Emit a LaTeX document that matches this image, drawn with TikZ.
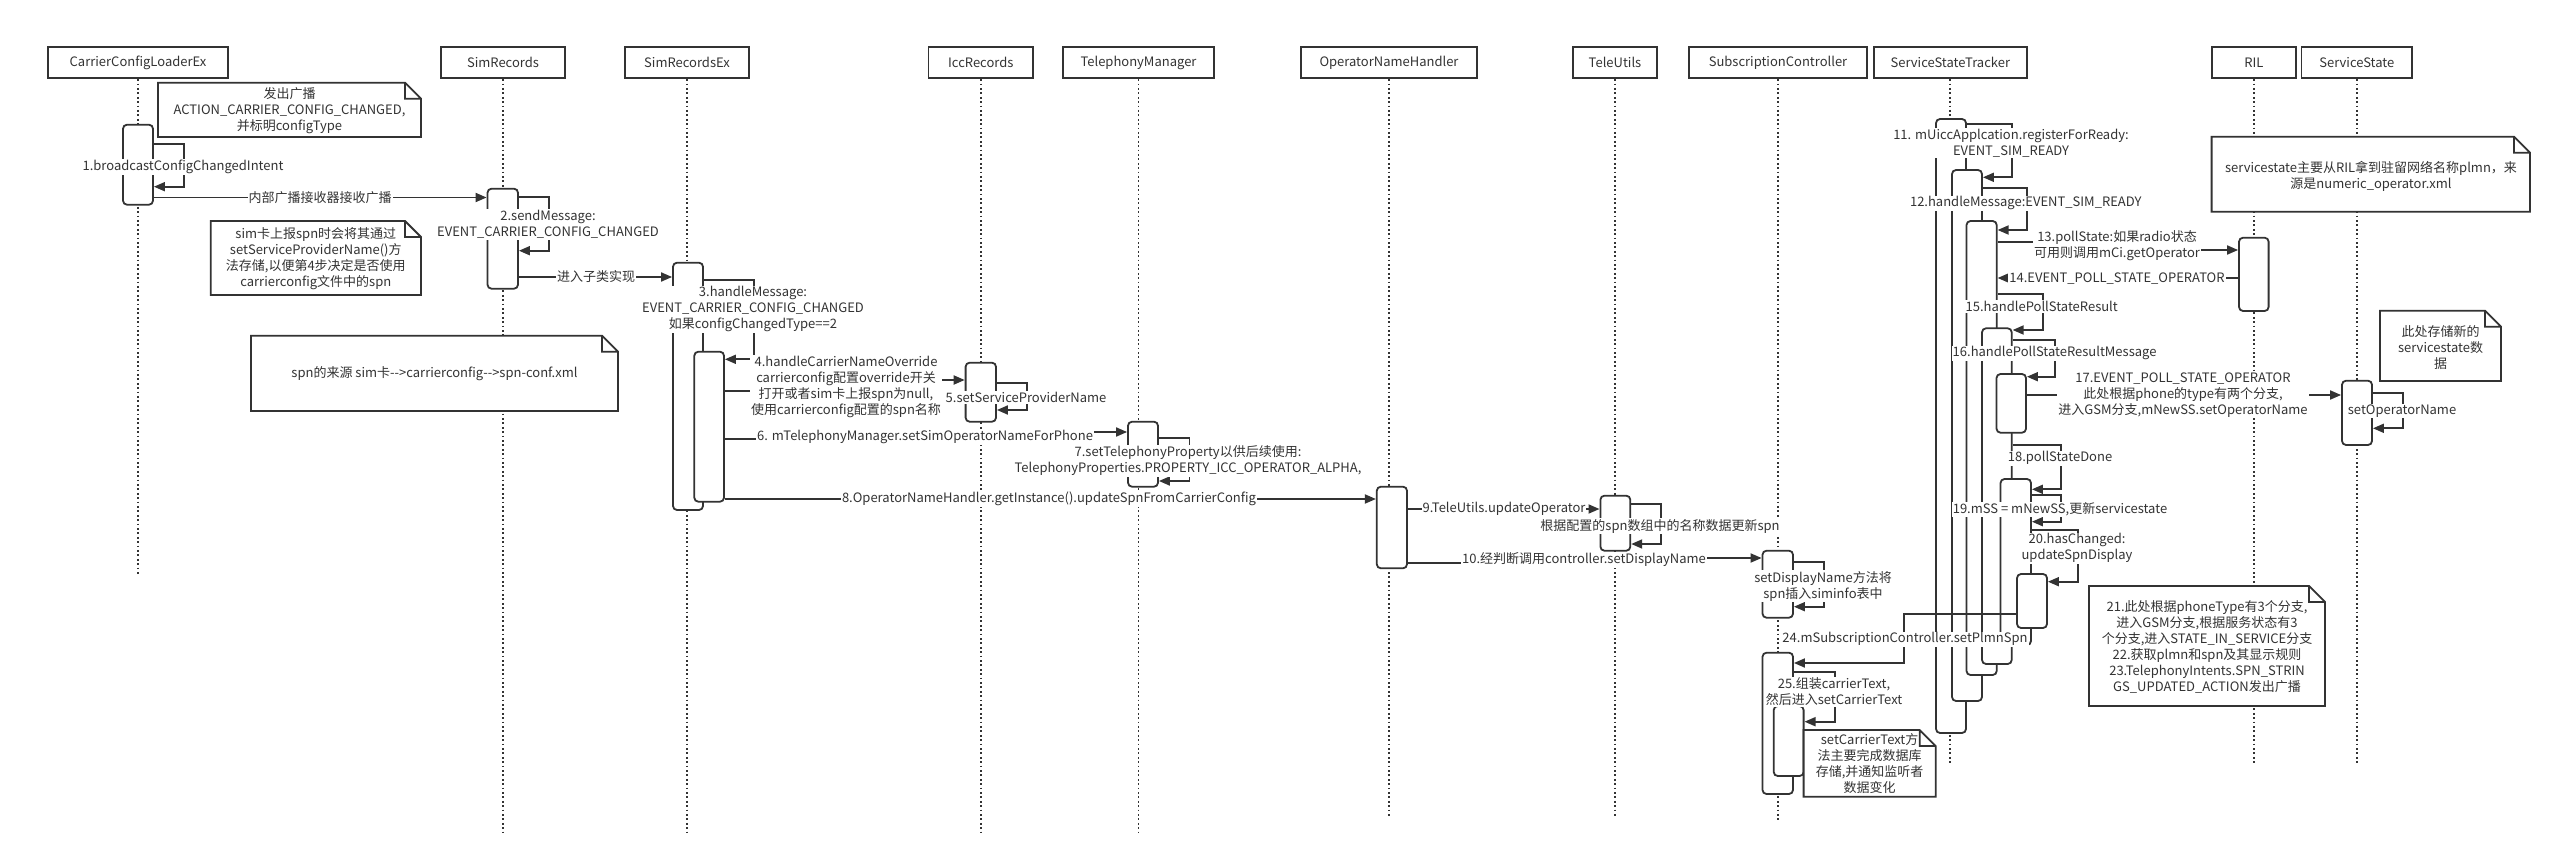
\documentclass[tikz,border=0pt]{standalone}
\usepackage{fontspec}
\usetikzlibrary{arrows.meta,fit}
\newfontfamily\cjk{Noto Sans CJK SC}
\definecolor{ink}{HTML}{333333}

\begin{document}
\begin{tikzpicture}[x=1pt, y=-1pt, >={Triangle[length=11pt,width=9pt]}, color=ink,
    every node/.style={font=\cjk\fontsize{13}{16}\selectfont, text=ink},
    head/.style={rectangle, draw=ink, line width=1.8pt, minimum height=31pt, inner sep=0pt},
    life/.style={draw=ink, line width=1.8pt, dash pattern=on 1.8pt off 2.6pt},
    act/.style={rectangle, draw=ink, fill=white, rounded corners=4pt, line width=1.8pt, inner sep=0pt},
    msg/.style={draw=ink, line width=1.8pt, ->},
    lbl/.style={fill=white, inner sep=1pt, align=center},
    notebox/.style={draw=ink, fill=white, line width=1.8pt, line join=miter},
    notetext/.style={align=center, inner sep=0pt}]

    \useasboundingbox (0,0) rectangle (2562,848);

    % Heads.
    \node[head, minimum width=180pt] (ccle) at (138,62.8) {CarrierConfigLoaderEx};
    \node[head, minimum width=124.5pt] (simr) at (503,62.8) {SimRecords};
    \node[head, minimum width=124pt] (simrex) at (687,62.8) {SimRecordsEx};
    \node[head, minimum width=104.5pt] (iccr) at (980.8,62.8) {IccRecords};
    \node[head, minimum width=151pt] (telmgr) at (1138.5,62.8) {TelephonyManager};
    \node[head, minimum width=176pt] (onh) at (1389,62.8) {OperatorNameHandler};
    \node[head, minimum width=83.5pt] (teleu) at (1615,62.8) {TeleUtils};
    \node[head, minimum width=178pt] (subc) at (1778,62.8) {SubscriptionController};
    \node[head, minimum width=153.4pt] (sst) at (1950.3,62.8) {ServiceStateTracker};
    \node[head, minimum width=84.4pt] (ril) at (2253.8,62.8) {RIL};
    \node[head, minimum width=110.5pt] (sstate) at (2356.8,62.8) {ServiceState};

    % Lifelines.
    \foreach \n/\b in {ccle/575, simr/835, simrex/835, iccr/835, telmgr/835, onh/817,
                       teleu/817, subc/820, sst/763, ril/763, sstate/763}
        \draw[life] (\n.south) -- (\n.south |- 0,\b);

    % Activations, outer ones first.
    \foreach \n/\xa/\ya/\xb/\yb in {ccleA/123/124.7/153/204.7, simrA/487.5/188.7/518/288.7,
            srexA/673/262.7/703/510, srexB/694.3/351.7/724/501.7,
            iccrA/965.6/362.7/996/421.7, telA/1128/421.7/1158/486.7,
            onhA/1376.8/486.7/1407/568.3, teleA/1600.4/495.7/1630.3/550.7,
            subA/1762.5/550.7/1793/617.7, subB/1762.5/652.7/1793/794, subC/1773.7/706/1803.6/776,
            sstA/1936/119/1966/733, sstB/1952/170/1982/701, sstC/1966.5/221/1996.7/675,
            sstD/1982/328.3/2011.7/664, sstE/1996.5/374/2026/432.7, sstF/2000.5/479/2031/645,
            sstG/2017/574/2047/628, rilA/2239/237.7/2268.6/311, ssA/2342/380.7/2372/445}
        \node[act, fit={(\xa,\ya) (\xb,\yb)}] (\n) {};

    % Calls between objects.
    \draw[msg] (ccleA.east |- 0,197.5) -- (simrA.west |- 0,197.5);
    \draw[msg] (simrA.east |- 0,277) -- (srexA.west |- 0,277);
    \draw[msg] (srexB.east |- 0,390.7) -- ++(120,0) |- (iccrA.west |- 0,380);
    \draw[msg] (srexB.east |- 0,439) -- ++(200,0) |- (telA.west |- 0,432);
    \draw[msg] (srexB.east |- 0,499) -- (onhA.west |- 0,499);
    \draw[msg] (onhA.east |- 0,509) -- (teleA.west |- 0,509);
    \draw[msg] (onhA.east |- 0,563) -- ++(175,0) |- (subA.west |- 0,558);
    \draw[msg] (sstC.east |- 0,241.7) -- ++(120,0) |- (rilA.west |- 0,250);
    \draw[msg] (rilA.west |- 0,278) -- (sstC.east |- 0,278);
    \draw[msg] (sstE.east |- 0,395) -- (ssA.west |- 0,395);
    \draw[msg] (sstG.west |- 0,614) -- ++(-112,0) |- (subB.east |- 0,663);

    % Self calls.
    \draw[msg] (ccleA.east |- 0,144.3) -- ++(30,0) |- (ccleA.east |- 0,186.7);
    \draw[msg] (simrA.east |- 0,196.7) -- ++(30,0) |- (simrA.east |- 0,250.7);
    \draw[msg] (srexA.east |- 0,280) -- ++(50,0) |- (srexB.east |- 0,359.3);
    \draw[msg] (iccrA.east |- 0,382.7) -- ++(30,0) |- (iccrA.east |- 0,410);
    \draw[msg] (telA.east |- 0,438) -- ++(30.6,0) |- (telA.east |- 0,481);
    \draw[msg] (teleA.east |- 0,504) -- ++(29.7,0) |- (teleA.east |- 0,544);
    \draw[msg] (subA.east |- 0,562) -- ++(30,0) |- (subA.east |- 0,606.7);
    \draw[msg] (subB.east |- 0,671.7) -- ++(41,0) |- (subC.east |- 0,721.7);
    \draw[msg] (sstA.east |- 0,124) -- ++(45,0) |- (sstB.east |- 0,177.3);
    \draw[msg] (sstB.east |- 0,188.3) -- ++(44,0) |- (sstC.east |- 0,230);
    \draw[msg] (sstC.east |- 0,294.3) -- ++(45,0) |- (sstD.east |- 0,330);
    \draw[msg] (sstD.east |- 0,340) -- ++(42.3,0) |- (sstE.east |- 0,376.7);
    \draw[msg] (sstD.east |- 0,445) -- ++(48.7,0) |- (sstF.east |- 0,489.3);
    \draw[msg] (sstF.east |- 0,495) -- ++(29.4,0) |- (sstF.east |- 0,521.7);
    \draw[msg] (sstF.east |- 0,530) -- ++(46,0) |- (sstG.east |- 0,581.7);
    \draw[msg] (ssA.east |- 0,392.7) -- ++(30.4,0) |- (ssA.east |- 0,428.3);

    % Labels.
    \node[lbl] (lb1) at (183,166.7) {1.broadcastConfigChangedIntent};
    \node[lbl] (lbr) at (320,197.5) {内部广播接收器接收广播};
    \node[lbl] (lb2) at (548,224.5) {2.sendMessage:\\EVENT\_CARRIER\_CONFIG\_CHANGED};
    \node[lbl] (lbs) at (596,277) {进入子类实现};
    \node[lbl] (lb3) at (753,309.3) {3.handleMessage:\\EVENT\_CARRIER\_CONFIG\_CHANGED\\如果configChangedType==2};
    \node[lbl] (lb4) at (846,386.5) {4.handleCarrierNameOverride\\carrierconfig配置override开关\\打开或者sim卡上报spn为null,\\使用carrierconfig配置的spn名称};
    \node[lbl] (lb5) at (1026,397.7) {5.setServiceProviderName};
    \node[lbl] (lb6) at (925,436.7) {6. mTelephonyManager.setSimOperatorNameForPhone};
    \node[lbl] (lb7) at (1188,461) {7.setTelephonyProperty以供后续使用:\\TelephonyProperties.PROPERTY\_ICC\_OPERATOR\_ALPHA,};
    \node[lbl] (lb8) at (1049,499) {8.OperatorNameHandler.getInstance().updateSpnFromCarrierConfig};
    \node[lbl] (lb9) at (1504,509) {9.TeleUtils.updateOperator};
    \node[lbl] (lbt) at (1660,526) {根据配置的spn数组中的名称数据更新spn};
    \node[lbl] (lb10) at (1584,560) {10.经判断调用controller.setDisplayName};
    \node[lbl] (lbd) at (1823,586) {setDisplayName方法将\\spn插入siminfo表中};
    \node[lbl] (lb11) at (2011,143.3) {11. mUiccApplcation.registerForReady:\\EVENT\_SIM\_READY};
    \node[lbl] (lb12) at (2025.7,203.3) {12.handleMessage:EVENT\_SIM\_READY};
    \node[lbl] (lb13) at (2117,246) {13.pollState:如果radio状态\\可用则调用mCi.getOperator};
    \node[lbl] (lb14) at (2117,279) {14.EVENT\_POLL\_STATE\_OPERATOR};
    \node[lbl] (lb15) at (2041.7,306.7) {15.handlePollStateResult};
    \node[lbl] (lb16) at (2054.6,353.3) {16.handlePollStateResultMessage};
    \node[lbl] (lb17) at (2183,395) {17.EVENT\_POLL\_STATE\_OPERATOR\\此处根据phone的type有两个分支,\\进入GSM分支,mNewSS.setOperatorName};
    \node[lbl] (lbo) at (2402,411) {setOperatorName};
    \node[lbl] (lb18) at (2060,458.3) {18.pollStateDone};
    \node[lbl] (lb19) at (2060,509.3) {19.mSS = mNewSS,更新servicestate};
    \node[lbl] (lb20) at (2077,548.3) {20.hasChanged:\\updateSpnDisplay};
    \node[lbl] (lb24) at (1905,639.3) {24.mSubscriptionController.setPlmnSpn};
    \node[lbl] (lb25) at (1834,692) {25.组装carrierText,\\然后进入setCarrierText};

    % Notes with a folded corner.
    \foreach \xa/\ya/\xb/\yb in {158/82.7/421/137, 210.7/221/421/295, 251/335.7/618/411,
            2211.6/136.7/2530/211.7, 2380/310.7/2501/381, 2089/586/2325/706, 1803.6/730/1935.7/796.7}
        \draw[notebox] (\xa,\ya) -- (\xb-16,\ya) -- (\xb,\ya+16) -- (\xb,\yb) -- (\xa,\yb) -- cycle
            (\xb-16,\ya) |- (\xb,\ya+16);

    \node[notetext] (nt1) at (289.5,110.5) {发出广播\\ACTION\_CARRIER\_CONFIG\_CHANGED,\\并标明configType};
    \node[notetext] (nt2) at (315.8,258.5) {sim卡上报spn时会将其通过\\setServiceProviderName()方\\法存储,以便第4步决定是否使用\\carrierconfig文件中的spn};
    \node[notetext] (nt7) at (434.5,374) {spn的来源 sim卡-->carrierconfig-->spn-conf.xml};
    \node[notetext] (nt6) at (2371,176) {servicestate主要从RIL拿到驻留网络名称plmn，来\\源是numeric\_operator.xml};
    \node[notetext] (nt4) at (2440.5,347.5) {此处存储新的\\servicestate数\\据};
    \node[notetext] (nt5) at (2207,647) {21.此处根据phoneType有3个分支,\\进入GSM分支,根据服务状态有3\\个分支,进入STATE\_IN\_SERVICE分支\\22.获取plmn和spn及其显示规则\\23.TelephonyIntents.SPN\_STRIN\\GS\_UPDATED\_ACTION发出广播};
    \node[notetext] (nt3) at (1869.6,764) {setCarrierText方\\法主要完成数据库\\存储,并通知监听者\\数据变化};

\end{tikzpicture}
\end{document}
